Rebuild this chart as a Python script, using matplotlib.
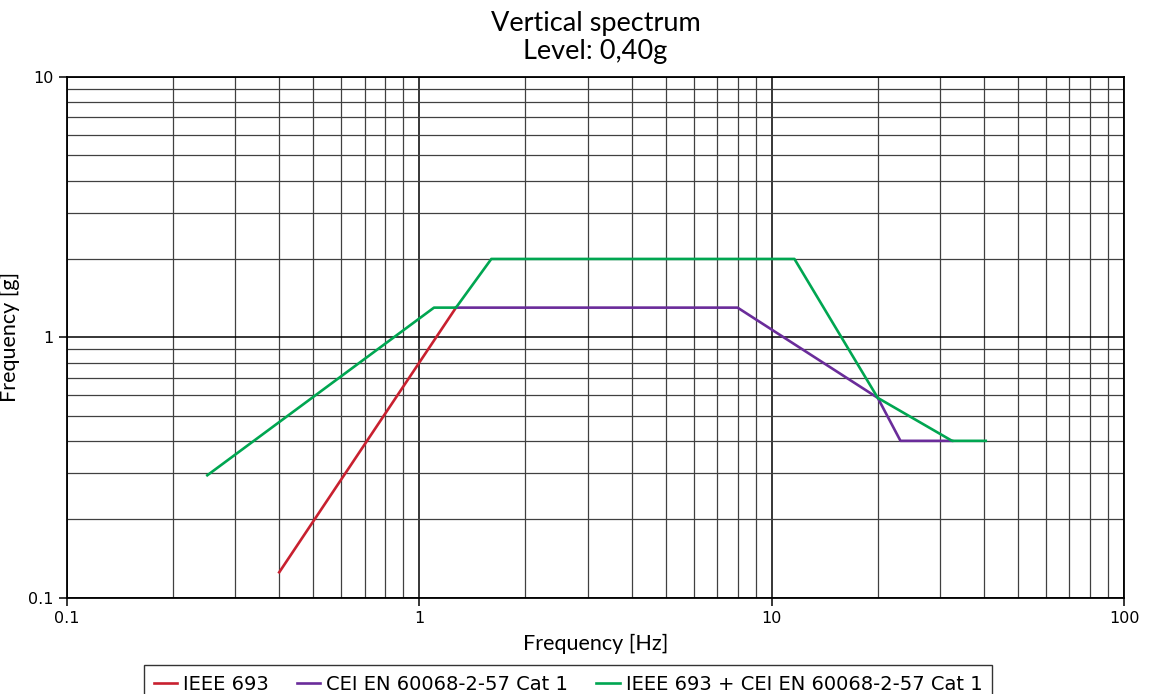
import matplotlib
matplotlib.use('Agg')
import matplotlib.pyplot as plt
from matplotlib.ticker import LogLocator, FixedFormatter, NullFormatter, FixedLocator

# 数据
ieee_f = [0.4, 1.27]
ieee_g = [0.125, 1.3]

cei_f = [1.27, 8.0, 20.0, 23.2, 32.5]
cei_g = [1.3, 1.3, 0.585, 0.40, 0.40]

comb_f = [0.25, 1.1, 1.27, 1.6, 11.6, 20.0, 32.5, 40.5]
comb_g = [0.295, 1.3, 1.3, 2.0, 2.0, 0.585, 0.40, 0.40]

labels = ['IEEE 693', 'CEI EN 60068-2-57 Cat 1', 'IEEE 693 + CEI EN 60068-2-57 Cat 1']
colors = ['#c8202f', '#6a2c9a', '#00a651']

matplotlib.rcParams['font.family'] = ['Lato', 'DejaVu Sans']

fig = plt.figure(figsize=(11.57, 6.94), dpi=100)
ax = fig.add_axes([0.058, 0.139, 0.9135, 0.750])

ax.plot(ieee_f, ieee_g, color=colors[0], lw=1.9, label=labels[0])
ax.plot(cei_f, cei_g, color=colors[1], lw=1.9, label=labels[1])
ax.plot(comb_f, comb_g, color=colors[2], lw=1.9, label=labels[2])

ax.set_xscale('log')
ax.set_yscale('log')
ax.set_xlim(0.1, 100)
ax.set_ylim(0.1, 10)

ax.xaxis.set_major_locator(FixedLocator([0.1, 1, 10, 100]))
ax.xaxis.set_major_formatter(FixedFormatter(['0.1', '1', '10', '100']))
ax.yaxis.set_major_locator(FixedLocator([0.1, 1, 10]))
ax.yaxis.set_major_formatter(FixedFormatter(['0.1', '1', '10']))
ax.xaxis.set_minor_locator(LogLocator(base=10, subs=range(2, 10)))
ax.yaxis.set_minor_locator(LogLocator(base=10, subs=range(2, 10)))
ax.xaxis.set_minor_formatter(NullFormatter())
ax.yaxis.set_minor_formatter(NullFormatter())

ax.grid(which='major', color='black', lw=1.1)
ax.grid(which='minor', color='#404040', lw=0.9)
ax.set_axisbelow(True)
ax.tick_params(which='minor', length=0)
ax.tick_params(which='major', length=6, width=1.1, labelsize=11.5)
for lab in ax.get_xticklabels() + ax.get_yticklabels():
    lab.set_family('DejaVu Sans')
for s in ax.spines.values():
    s.set_linewidth(1.3)
    s.set_color('black')

ax.set_xlabel('Frequency [Hz]', fontsize=15.5, labelpad=6)
ax.set_ylabel('Frequency [g]', fontsize=15.5, labelpad=6)
ax.set_title('Vertical spectrum\nLevel: 0,40g', fontsize=19.5, linespacing=1.15, pad=13)

leg = fig.legend(loc='upper center', bbox_to_anchor=(0.491, 0.0415), ncol=3,
                 frameon=True, fancybox=False, edgecolor='black',
                 handlelength=1.2, handletextpad=0.3, columnspacing=1.45,
                 borderpad=0.3, borderaxespad=0,
                 prop={'family': ['Liberation Sans Narrow', 'DejaVu Sans'], 'size': 14})
leg.get_frame().set_linewidth(1.0)
leg._legend_box.pad = 7

plt.savefig('out.png', dpi=100)
